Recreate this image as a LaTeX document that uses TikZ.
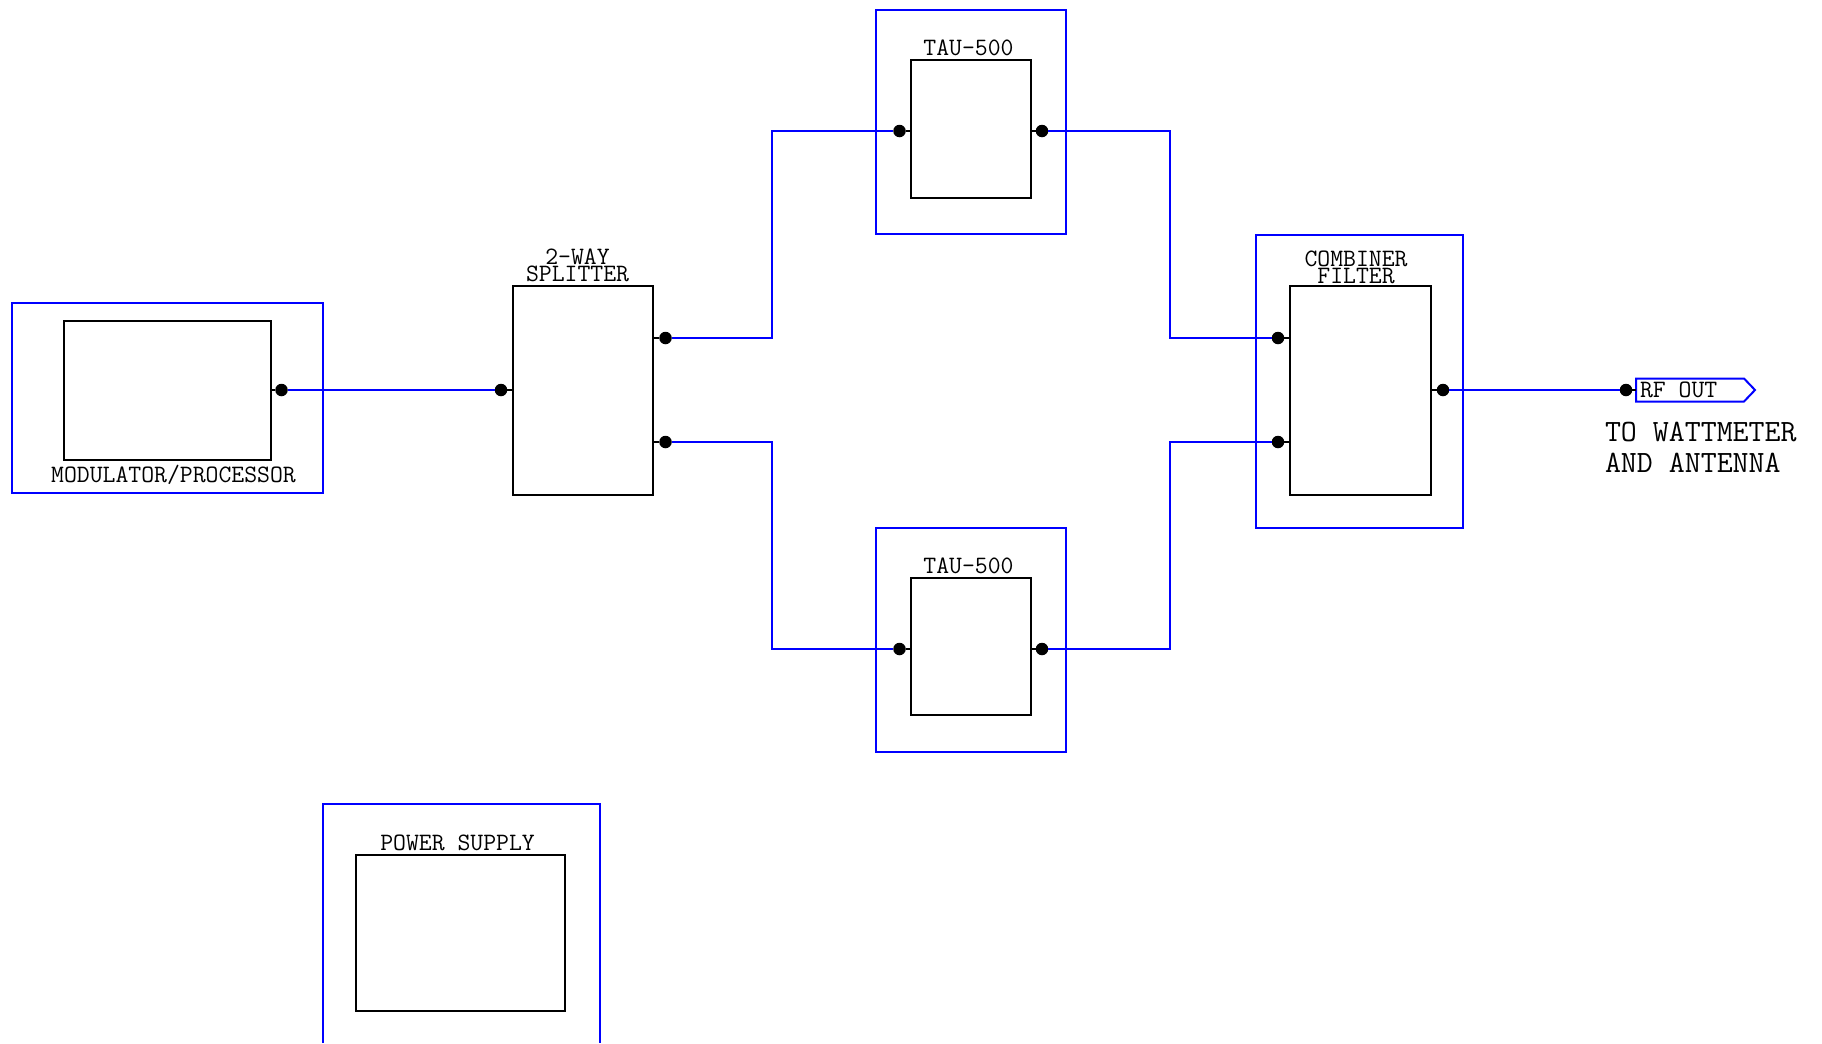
\documentclass[tikz,border=0pt]{standalone}
\begin{document}
\begin{tikzpicture}[x=1bp,y=-1bp,
  outerbox/.style={draw=wireblue,line width=2bp,inner sep=0pt,outer sep=0pt},
  innerbox/.style={draw=black,line width=2bp,inner sep=0pt,outer sep=0pt},
  dot/.style={circle,fill=black,inner sep=0pt,outer sep=0pt,minimum size=12.5bp},
  wire/.style={draw=wireblue,line width=2bp,line join=miter},
  stub/.style={draw=black,line width=2bp},
  lbl/.style={inner sep=0pt,outer sep=0pt,anchor=base,font=\fontsize{25bp}{17bp}\selectfont\ttfamily},
  lbltwo/.style={lbl,anchor=south,align=center},
  biglbl/.style={inner sep=0pt,outer sep=0pt,anchor=base west,font=\fontsize{31bp}{31bp}\selectfont\ttfamily}
]
\definecolor{wireblue}{RGB}{0,0,255}
\path[use as bounding box] (0,0) rectangle (1822,1043);
% outer blue enclosures
\node[outerbox,minimum width=311bp,minimum height=190bp] (modo) at (167.5,398) {};
\node[outerbox,minimum width=190bp,minimum height=224bp] (tauao) at (971,122) {};
\node[outerbox,minimum width=190bp,minimum height=224bp] (taubo) at (971,640) {};
\node[outerbox,minimum width=207bp,minimum height=293bp] (combo) at (1359.5,381) {};
\coordinate (pa) at (323,1043);
\coordinate (pb) at (323,804);
\coordinate (pc) at (600,804);
\coordinate (pd) at (600,1043);
\draw[wire] (pa) -- (pb) -- (pc) -- (pd);
% inner black boxes
\node[innerbox,minimum width=207bp,minimum height=139bp] (mod) at (167.5,390.5) {};
\node[innerbox,minimum width=140.5bp,minimum height=209bp] (split) at (582.75,390.5) {};
\node[innerbox,minimum width=120.5bp,minimum height=137.5bp] (taua) at (970.75,128.75) {};
\node[innerbox,minimum width=120.5bp,minimum height=137.5bp] (taub) at (970.75,646.5) {};
\node[innerbox,minimum width=140.5bp,minimum height=209bp] (comb) at (1360.5,390.5) {};
\node[innerbox,minimum width=209.5bp,minimum height=156bp] (pwr) at (460.25,932.5) {};
% connection dots
\node[dot] (modout) at (281.5,390) {};
\node[dot] (splitin) at (501,390) {};
\node[dot] (splitouta) at (665.5,338) {};
\node[dot] (splitoutb) at (665.5,442) {};
\node[dot] (tauain) at (899.5,131) {};
\node[dot] (tauaout) at (1042,131) {};
\node[dot] (taubin) at (899.5,649) {};
\node[dot] (tauobout) at (1042,649) {};
\node[dot] (combina) at (1278,338) {};
\node[dot] (combinb) at (1278,442) {};
\node[dot] (combout) at (1443,390) {};
\node[dot] (rfdot) at (1626,390) {};
% stubs
\draw[stub] (modout) -- (modout -| mod.east);
\draw[stub] (splitin) -- (splitin -| split.west);
\draw[stub] (splitouta) -- (splitouta -| split.east);
\draw[stub] (splitoutb) -- (splitoutb -| split.east);
\draw[stub] (tauain) -- (tauain -| taua.west);
\draw[stub] (tauaout) -- (tauaout -| taua.east);
\draw[stub] (taubin) -- (taubin -| taub.west);
\draw[stub] (tauobout) -- (tauobout -| taub.east);
\draw[stub] (combina) -- (combina -| comb.west);
\draw[stub] (combinb) -- (combinb -| comb.west);
\draw[stub] (combout) -- (combout -| comb.east);
% RF OUT tag
\coordinate (tagw) at (1636,390);
\coordinate (tagnw) at (1636,378.5);
\coordinate (tagne) at (1744,378.5);
\coordinate (tage) at (1755,390);
\coordinate (tagse) at (1744,401.5);
\coordinate (tagsw) at (1636,401.5);
\draw[wire] (tagnw) -- (tagne) -- (tage) -- (tagse) -- (tagsw) -- cycle;
\draw[stub] (rfdot) -- (tagw);
% wires
\coordinate (busl) at (772,0);
\coordinate (busr) at (1170,0);
\draw[wire] (modout) -- (splitin);
\draw[wire] (splitouta) -- (splitouta -| busl) -- (busl |- tauain) -- (tauain);
\draw[wire] (splitoutb) -- (splitoutb -| busl) -- (busl |- taubin) -- (taubin);
\draw[wire] (tauaout) -- (tauaout -| busr) -- (busr |- combina) -- (combina);
\draw[wire] (tauobout) -- (tauobout -| busr) -- (busr |- combinb) -- (combinb);
\draw[wire] (combout) -- (rfdot);
% labels
\node[lbl] (lmod) at (173.5,482.5) {MODULATOR/PROCESSOR};
\node[lbl] (ltaua) at (968.5,55) {TAU-500};
\node[lbl] (ltaub) at (968.5,573) {TAU-500};
\node[lbltwo] (lsplit) at (577.5,282) {2-WAY\\SPLITTER};
\node[lbltwo] (lcomb) at (1356,284) {COMBINER\\FILTER};
\node[lbl] (lpwr) at (457.5,850) {POWER SUPPLY};
\node[lbl,anchor=base west] (lrf) at (1640,397) {RF OUT};
\node[biglbl] (lto) at (1605,441.5) {TO WATTMETER};
\node[biglbl] (land) at (1605,472.5) {AND ANTENNA};
\end{tikzpicture}
\end{document}
